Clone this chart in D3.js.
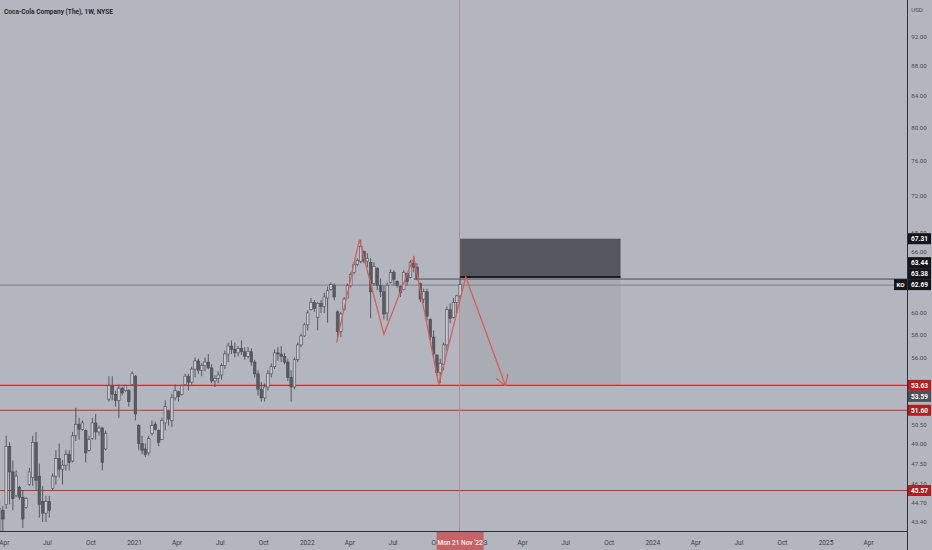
<!DOCTYPE html>
<html><head><meta charset="utf-8">
<script src="https://cdn.jsdelivr.net/npm/d3@7"></script>
<style>html,body{margin:0;padding:0;background:#b3b6be;}svg{display:block}</style>
</head><body>
<svg id="chart" width="932" height="550"></svg>
<script>
// ---------------- DATA ----------------
const title = "Coca-Cola Company (The), 1W, NYSE";
const currency = "USD";
const symbol = "KO";
const firstWeek = "2020-03-23";
const openP = [38.3,44.2,44.6,48.8,46.9,45.2,45.8,45.1,44.4,46.0,46.5,49.1,46.6,44.8,44.0,44.8,45.7,46.6,47.9,47.1,
47.4,48.2,47.7,49.6,50.5,50.1,50.0,48.5,49.4,50.6,49.9,50.2,48.6,52.5,53.6,52.9,52.4,53.4,53.2,53.2,
53.7,54.4,50.4,49.0,48.6,48.3,49.8,50.5,50.0,49.3,50.6,51.5,50.8,52.6,53.1,52.9,53.7,54.4,53.9,55.0,
55.7,54.9,55.3,55.6,55.1,54.0,54.2,54.5,55.3,56.3,57.0,56.7,56.4,56.8,56.5,56.1,56.5,55.6,54.6,53.3,
52.6,53.5,54.6,55.2,56.4,56.3,56.1,55.6,54.3,53.5,55.8,57.1,57.9,58.9,60.3,61.0,59.6,60.9,60.6,61.4,
62.2,62.6,60.1,58.3,60.3,61.4,62.6,63.9,64.7,65.0,66.0,65.0,64.9,62.8,64.3,62.6,62.0,60.0,62.9,63.9,
63.0,62.5,62.2,63.8,63.4,64.8,64.4,62.8,61.3,62.0,59.4,57.8,56.2,54.7,55.4,57.1,60.3,59.6,61.0,61.6];
const highP = [44.9,44.5,49.6,49.1,47.75,47.0,45.9,45.6,45.1,47.2,49.6,49.9,47.5,45.9,45.2,45.2,46.8,48.5,49.0,47.75,
48.5,48.5,49.9,51.8,51.0,50.8,50.1,49.6,51.0,51.3,50.4,50.3,50.0,54.4,54.4,53.2,53.7,53.5,53.7,53.3,
54.8,54.5,50.5,49.6,49.0,49.6,50.8,50.7,50.1,51.0,52.4,51.6,52.9,53.7,53.2,53.7,54.6,54.6,55.2,56.0,
55.9,55.5,56.0,56.3,55.4,54.5,54.8,55.5,56.6,57.3,57.5,57.3,57.0,57.5,56.9,56.9,56.8,55.8,54.9,53.9,
53.8,54.9,55.5,56.7,56.9,57.0,56.4,55.9,54.9,56.0,57.3,58.1,59.1,60.25,61.4,61.2,61.0,61.2,61.9,62.5,
62.9,62.8,60.25,60.1,61.5,62.8,63.9,64.9,65.3,67.2,66.1,65.8,65.3,64.9,64.4,63.3,62.6,62.9,64.2,64.1,
63.1,62.6,64.1,63.8,65.1,65.5,64.8,62.9,62.3,62.3,59.5,58.4,56.3,55.9,57.3,60.6,60.9,61.4,61.7,63.38];
const lowP = [36.3,42.8,44.3,44.6,44.2,45.1,44.9,43.0,44.3,45.9,45.9,45.6,43.7,43.4,43.4,43.7,45.6,46.0,46.5,46.0,
47.0,47.0,47.6,49.2,49.3,50.0,47.6,48.4,49.3,49.3,49.6,47.0,48.5,52.3,52.4,51.9,51.0,52.8,53.1,51.9,
53.6,50.8,48.5,48.2,48.0,48.1,49.6,50.0,48.8,49.3,50.0,50.4,50.3,52.4,52.3,52.8,53.6,53.2,53.7,54.3,
54.6,54.4,54.8,55.0,53.8,53.5,53.8,54.1,55.0,55.6,56.3,56.0,56.1,56.2,55.8,55.9,55.3,54.3,52.8,52.3,
52.3,53.2,54.3,55.0,55.7,55.6,55.4,54.0,52.3,53.3,55.6,56.9,57.8,58.4,60.2,60.1,58.4,60.0,60.0,59.1,
62.1,61.2,57.5,57.8,60.2,61.4,62.4,63.7,64.5,64.8,64.8,64.4,59.5,62.6,62.15,61.5,59.4,59.3,62.8,62.6,
62.4,61.5,62.15,62.6,63.3,63.9,63.1,61.0,60.9,59.3,57.5,56.0,54.4,53.8,54.9,56.6,59.05,59.5,60.0,61.3];
const closeP = [44.3,43.6,48.8,46.9,45.0,46.6,45.1,43.6,45.0,46.9,49.1,46.3,44.6,44.0,44.8,44.2,46.6,47.9,47.1,47.4,
48.2,47.6,49.6,50.5,50.1,50.6,48.3,49.3,50.6,49.9,50.2,47.6,49.8,53.6,52.9,52.4,53.4,53.0,53.6,52.3,
54.6,51.3,49.0,48.5,48.2,49.4,50.4,50.1,49.1,50.8,51.9,50.9,52.6,53.2,52.7,53.6,54.4,53.9,55.0,55.7,
54.9,55.3,55.6,55.1,54.0,54.2,54.5,55.3,56.3,57.0,56.7,56.4,56.8,56.5,56.1,56.5,55.6,54.6,53.3,52.6,
53.5,54.6,55.2,56.4,56.3,56.1,55.6,54.3,53.5,55.8,57.1,57.9,58.9,60.0,61.0,60.4,60.9,60.6,61.5,62.1,
62.7,61.5,58.3,59.9,61.3,62.6,63.7,64.7,65.1,66.5,65.0,65.3,62.0,64.5,62.6,62.0,59.9,62.6,63.9,63.2,
62.6,61.9,63.9,63.0,64.9,64.4,63.3,61.3,62.0,59.7,57.8,56.3,54.7,55.5,57.1,60.3,59.5,61.0,61.6,62.69];

// visible price-scale tick labels
const yTicks = [92,88,84,80,76,72,68,66,60,58,56,50.5,49,47.5,46.1,44.7,43.4];
const xTicks = ["2020-04-01","2020-07-01","2020-10-01","2021-01-01","2021-04-01","2021-07-01","2021-10-01",
  "2022-01-01","2022-04-01","2022-07-01","2022-10-01","2023-01-01","2023-04-01","2023-07-01","2023-10-01",
  "2024-01-01","2024-04-01","2024-07-01","2024-10-01","2025-01-01","2025-04-01"];

const redLevels = [53.63, 51.60, 45.57];
const lastPrice = 62.69;
const rayPrice = 63.38;
const rayStart = "2022-08-15";
const crossDate = "2022-11-21";
const crossLabel = "Mon 21 Nov '22";
// zigzag pattern drawing (date, price)
const zigDates  = ["2022-03-05","2022-04-22","2022-06-13","2022-08-15","2022-10-07","2022-12-03","2023-02-25"];
const zigPrices = [57.3, 67.2, 58.05, 65.4, 53.7, 63.44, 53.6];
// position tool (short)
const boxDates  = ["2022-11-21","2023-10-26"];
const boxPrices = [67.31, 63.44, 53.59];   // stop, entry, target

// ---------------- CHART ----------------
const svg = d3.select("#chart");
const W = 932, H = 550, plotR = 907, plotB = 531;
const bg = "#b3b6be";
const parse = d3.utcParse("%Y-%m-%d");

const x = d3.scaleTime()
  .domain([parse("2021-01-01"), parse("2025-01-01")])
  .range([134, 825.5]);
const y = d3.scaleLog().domain([43.4, 92]).range([522, 37]);

svg.append("rect").attr("width", W).attr("height", H).attr("fill", bg);

svg.append("defs").append("clipPath").attr("id", "plotclip")
  .append("rect").attr("x", 0).attr("y", 0).attr("width", plotR).attr("height", plotB);

const plot = svg.append("g").attr("clip-path", "url(#plotclip)");

// position tool boxes
const bx0 = x(parse(boxDates[0])), bx1 = x(parse(boxDates[1]));
plot.append("rect").attr("x", bx0).attr("width", bx1 - bx0)
  .attr("y", y(boxPrices[1])).attr("height", y(boxPrices[2]) - y(boxPrices[1]))
  .attr("fill", "#6a6c75").attr("fill-opacity", 0.12);
plot.append("rect").attr("x", bx0).attr("width", bx1 - bx0)
  .attr("y", y(boxPrices[0])).attr("height", y(boxPrices[1]) - y(boxPrices[0]))
  .attr("fill", "#55575f");

// red horizontal levels
plot.selectAll("line.lvl").data(redLevels).join("line").attr("class", "lvl")
  .attr("x1", 0).attr("x2", plotR)
  .attr("y1", d => y(d)).attr("y2", d => y(d))
  .attr("stroke", "#d42a2a").attr("stroke-width", 1.1);

// last price line
plot.append("line").attr("x1", 0).attr("x2", plotR)
  .attr("y1", y(lastPrice) + 0.5).attr("y2", y(lastPrice) + 0.5)
  .attr("stroke", "#71747c").attr("stroke-width", 0.8);

// horizontal ray
plot.append("line").attr("x1", x(parse(rayStart))).attr("x2", plotR)
  .attr("y1", y(rayPrice) + 1.5).attr("y2", y(rayPrice) + 1.5)
  .attr("stroke", "#4a4c53").attr("stroke-width", 1);
// entry line of position tool
plot.append("line").attr("x1", bx0).attr("x2", bx1)
  .attr("y1", y(boxPrices[1])).attr("y2", y(boxPrices[1]))
  .attr("stroke", "#1c1d21").attr("stroke-width", 2);

// crosshair vertical
const cx = x(parse(crossDate));
plot.append("line").attr("x1", Math.round(cx) - 0.5).attr("x2", Math.round(cx) - 0.5)
  .attr("y1", 0).attr("y2", plotB)
  .attr("stroke", "#c27c7c").attr("stroke-width", 1).attr("stroke-opacity", 0.75);

// candles
const start = parse(firstWeek);
const candles = openP.map((o, i) => ({
  date: d3.utcMonday.offset(start, i), o, h: highP[i], l: lowP[i], c: closeP[i]
}));
const bw = 2.6;
const cg = plot.append("g");
cg.selectAll("line.wick").data(candles).join("line").attr("class", "wick")
  .attr("x1", d => x(d.date)).attr("x2", d => x(d.date))
  .attr("y1", d => y(d.h)).attr("y2", d => y(d.l))
  .attr("stroke", "#4c4e55").attr("stroke-width", 0.9);
cg.selectAll("rect.body").data(candles).join("rect").attr("class", "body")
  .attr("x", d => x(d.date) - bw / 2).attr("width", bw)
  .attr("y", d => y(Math.max(d.o, d.c)))
  .attr("height", d => Math.max(0.8, Math.abs(y(d.o) - y(d.c))))
  .attr("fill", d => d.c >= d.o ? "#c8cad0" : "#595b62")
  .attr("stroke", "#4c4e55").attr("stroke-width", 0.6);

// zigzag
const zig = zigDates.map((d, i) => [x(parse(d)), y(zigPrices[i])]);
plot.append("path").attr("d", d3.line()(zig))
  .attr("fill", "none").attr("stroke", "#d4605c").attr("stroke-width", 1.3);
// arrow head at last point
const tip = zig[zig.length - 1], prev = zig[zig.length - 2];
const ang = Math.atan2(tip[1] - prev[1], tip[0] - prev[0]);
const ah = 12, spread = 0.55;
[ang + Math.PI - spread, ang + Math.PI + spread].forEach(a => {
  plot.append("line").attr("x1", tip[0]).attr("y1", tip[1])
    .attr("x2", tip[0] + ah * Math.cos(a)).attr("y2", tip[1] + ah * Math.sin(a))
    .attr("stroke", "#d4605c").attr("stroke-width", 1.3);
});

// axes frame lines
svg.append("line").attr("x1", 0).attr("x2", plotR).attr("y1", plotB + 0.5).attr("y2", plotB + 0.5)
  .attr("stroke", "#2e3038").attr("stroke-width", 1);
svg.append("line").attr("x1", plotR + 0.5).attr("x2", plotR + 0.5).attr("y1", 0).attr("y2", H)
  .attr("stroke", "#2e3038").attr("stroke-width", 1);

const font = "Roboto, 'Liberation Sans', sans-serif";

// x axis
const xAxis = d3.axisBottom(x)
  .tickValues(xTicks.map(parse))
  .tickSize(0).tickPadding(0)
  .tickFormat(d => d.getUTCMonth() === 0 ? d3.utcFormat("%Y")(d) : d3.utcFormat("%b")(d));
const gx = svg.append("g").attr("transform", `translate(0,${plotB + 12})`).call(xAxis);
gx.select(".domain").remove();
gx.selectAll("text").attr("font-family", font).attr("font-size", 6.5).attr("fill", "#3a3c44")
  .attr("dy", "0.32em").attr("y", 0);

// y axis
const yAxis = d3.axisRight(y).tickValues(yTicks).tickSize(0).tickPadding(0)
  .tickFormat(d3.format(".2f"));
const gy = svg.append("g").attr("transform", `translate(${plotR + 12},0)`).call(yAxis);
gy.select(".domain").remove();
gy.selectAll("text").attr("font-family", font).attr("font-size", 6.2).attr("fill", "#4a4c54")
  .attr("x", 0).attr("text-anchor", "middle");

svg.append("text").attr("x", plotR + 10).attr("y", 12).text(currency).attr("text-anchor", "middle")
  .attr("font-family", font).attr("font-size", 6.2).attr("fill", "#4a4c54");

// title
svg.append("text").attr("x", 4).attr("y", 14).text(title)
  .attr("font-family", font).attr("font-size", 8).attr("font-weight", 600)
  .attr("fill", "#1b1c22").attr("textLength", 109).attr("lengthAdjust", "spacingAndGlyphs");

// price labels on the axis, placed in priority order with collision avoidance
const labels = [
  {p: lastPrice, fill: "#15161a"},
  {p: redLevels[0], fill: "#b31f1f"},
  {p: redLevels[1], fill: "#b31f1f"},
  {p: redLevels[2], fill: "#b31f1f"},
  {p: boxPrices[0], fill: "#15161a"},
  {p: rayPrice, fill: "#15161a"},
  {p: boxPrices[1], fill: "#15161a"},
  {p: boxPrices[2], fill: "#4e5058"}
];
const lh = 11, placed = [];
labels.forEach(L => {
  let yy = y(L.p);
  let moved = true, guard = 0;
  while (moved && guard++ < 20) {
    moved = false;
    for (const P of placed) {
      if (Math.abs(P.yy - yy) < lh) {
        yy = L.p > P.p ? P.yy - lh : P.yy + lh;
        moved = true;
      }
    }
  }
  L.yy = yy; placed.push(L);
});
const lg = svg.append("g");
placed.forEach(L => {
  lg.append("rect").attr("x", plotR + 1).attr("y", L.yy - lh / 2).attr("width", 23).attr("height", lh)
    .attr("fill", L.fill);
  lg.append("text").attr("x", plotR + 12.5).attr("y", L.yy).attr("dy", "0.35em")
    .attr("text-anchor", "middle").text(d3.format(".2f")(L.p))
    .attr("font-family", font).attr("font-size", 6.5).attr("font-weight", 700).attr("fill", "#ffffff");
});
// symbol tag for last price
const ky = placed[0].yy;
lg.append("rect").attr("x", plotR - 13).attr("y", ky - lh / 2).attr("width", 13).attr("height", lh)
  .attr("fill", "#15161a");
lg.append("text").attr("x", plotR - 6.5).attr("y", ky).attr("dy", "0.35em").attr("text-anchor", "middle")
  .text(symbol).attr("font-family", font).attr("font-size", 6.2).attr("font-weight", 700).attr("fill", "#fff");

// crosshair date label
const cw = 47;
svg.append("rect").attr("x", cx - cw / 2).attr("y", plotB + 1).attr("width", cw).attr("height", H - plotB - 1)
  .attr("fill", "#c46466");
svg.append("text").attr("x", cx).attr("y", plotB + 12).attr("dy", "0.32em").attr("text-anchor", "middle")
  .text(crossLabel).attr("font-family", font).attr("font-size", 6.5).attr("font-weight", 600).attr("fill", "#f4e6e6");
</script>
</body></html>
